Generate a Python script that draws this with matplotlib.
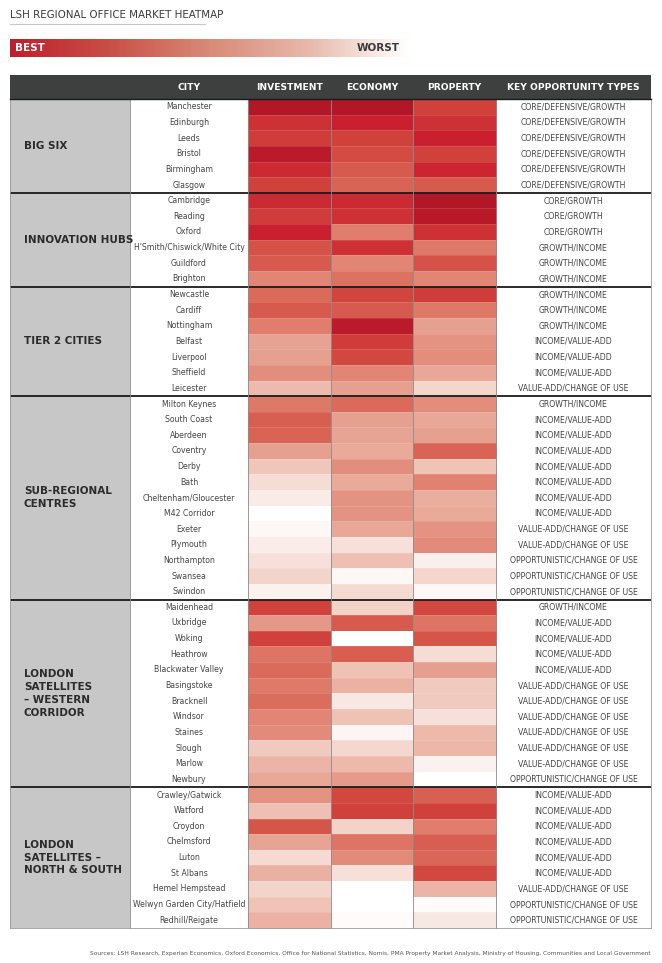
import numpy as np
import matplotlib
matplotlib.use("Agg")
import matplotlib.pyplot as plt
from matplotlib.colors import LinearSegmentedColormap

# ---------------- data ----------------
groups = ["BIG SIX", "INNOVATION HUBS", "TIER 2 CITIES", "SUB-REGIONAL\nCENTRES",
          "LONDON\nSATELLITES\n– WESTERN\nCORRIDOR", "LONDON\nSATELLITES –\nNORTH & SOUTH"]
group_sizes = [6, 6, 7, 13, 12, 9]

cities = ["Manchester", "Edinburgh", "Leeds", "Bristol", "Birmingham", "Glasgow",
          "Cambridge", "Reading", "Oxford", "H'Smith/Chiswick/White City", "Guildford", "Brighton",
          "Newcastle", "Cardiff", "Nottingham", "Belfast", "Liverpool", "Sheffield", "Leicester",
          "Milton Keynes", "South Coast", "Aberdeen", "Coventry", "Derby", "Bath",
          "Cheltenham/Gloucester", "M42 Corridor", "Exeter", "Plymouth", "Northampton", "Swansea", "Swindon",
          "Maidenhead", "Uxbridge", "Woking", "Heathrow", "Blackwater Valley", "Basingstoke",
          "Bracknell", "Windsor", "Staines", "Slough", "Marlow", "Newbury",
          "Crawley/Gatwick", "Watford", "Croydon", "Chelmsford", "Luton", "St Albans",
          "Hemel Hempstead", "Welwyn Garden City/Hatfield", "Redhill/Reigate"]

# score 0 (worst, white) .. 100 (best, dark red)
investment = [98, 85, 82, 95, 87, 80,
              87, 82, 90, 73, 70, 55,
              65, 70, 58, 44, 45, 52, 33,
              60, 69, 67, 45, 28, 17, 10, 0, 4, 9, 15, 21, 7,
              79, 48, 80, 61, 65, 59, 64, 55, 53, 26, 36, 42,
              50, 31, 72, 43, 18, 38, 21, 29, 37]
economy = [98, 90, 80, 75, 70, 67,
           87, 85, 58, 85, 55, 62,
           78, 70, 95, 82, 77, 55, 45,
           65, 45, 43, 41, 52, 41, 50, 50, 42, 15, 31, 4, 18,
           22, 70, 0, 69, 30, 37, 11, 30, 5, 19, 34, 47,
           77, 80, 22, 61, 53, 15, 0, 0, 2]
property_ = [80, 85, 90, 80, 88, 70,
             98, 96, 85, 60, 73, 55,
             82, 60, 45, 50, 52, 42, 20,
             52, 42, 45, 67, 29, 56, 39, 41, 50, 53, 8, 20, 4,
             77, 61, 72, 17, 46, 26, 26, 15, 34, 35, 7, 0,
             68, 80, 58, 69, 66, 77, 36, 2, 11]

key_types = (["CORE/DEFENSIVE/GROWTH"] * 6 +
             ["CORE/GROWTH"] * 3 + ["GROWTH/INCOME"] * 3 +
             ["GROWTH/INCOME"] * 3 + ["INCOME/VALUE-ADD"] * 3 + ["VALUE-ADD/CHANGE OF USE"] +
             ["GROWTH/INCOME"] + ["INCOME/VALUE-ADD"] * 7 + ["VALUE-ADD/CHANGE OF USE"] * 2 +
             ["OPPORTUNISTIC/CHANGE OF USE"] * 3 +
             ["GROWTH/INCOME"] + ["INCOME/VALUE-ADD"] * 4 + ["VALUE-ADD/CHANGE OF USE"] * 6 +
             ["OPPORTUNISTIC/CHANGE OF USE"] +
             ["INCOME/VALUE-ADD"] * 6 + ["VALUE-ADD/CHANGE OF USE"] + ["OPPORTUNISTIC/CHANGE OF USE"] * 2)

headers = ["CITY", "INVESTMENT", "ECONOMY", "PROPERTY", "KEY OPPORTUNITY TYPES"]
title = "LSH REGIONAL OFFICE MARKET HEATMAP"
source = ("Sources: LSH Research, Experian Economics, Oxford Economics, Office for National Statistics, "
          "Nomis, PMA Property Market Analysis, Ministry of Housing, Communities and Local Government")

# ---------------- style ----------------
plt.rcParams['font.family'] = ['Liberation Sans Narrow', 'DejaVu Sans']
cmap = LinearSegmentedColormap.from_list("lsh", [
    (0.00, "#ffffff"), (0.15, "#f6e0d9"), (0.30, "#efc2b5"), (0.45, "#e6a090"),
    (0.55, "#e28574"), (0.65, "#da6a5a"), (0.75, "#d34c42"), (0.82, "#cf3c3a"),
    (0.90, "#cb1f2f"), (1.00, "#ab1524")])
legend_cmap = LinearSegmentedColormap.from_list("leg", [
    (0.0, "#be1e2d"), (0.25, "#c95046"), (0.5, "#d98a78"), (0.75, "#e8b9ac"),
    (0.93, "#f9ece8"), (1.0, "#ffffff")])

W, H = 662, 963
fig = plt.figure(figsize=(W / 100, H / 100), dpi=100)
ax = fig.add_axes([0, 0, 1, 1])
ax.set_xlim(0, W)
ax.set_ylim(H, 0)
ax.axis("off")

# column edges
x_left, x_city, x_inv, x_eco, x_prop, x_key, x_right = 10, 130, 248, 331, 413, 496, 651
top, bottom = 99, 928
n = len(cities)
row_edges = np.linspace(top, bottom, n + 1)
row_mid = (row_edges[:-1] + row_edges[1:]) / 2

# title
ax.text(x_left, 15, title, fontsize=7.4, color="#3a3a3a", va="center", ha="left")
ax.plot([x_left, 205], [24, 24], color="#c8c8c8", lw=0.8)

# legend gradient bar
grad = np.linspace(0, 1, 300).reshape(1, -1)
ax.imshow(grad, cmap=legend_cmap, vmin=0, vmax=1, extent=[10, 410, 57, 39], aspect="auto",
          interpolation="bilinear")
ax.text(15, 48, "BEST", fontsize=7.5, color="white", fontweight="bold", va="center", ha="left")
ax.text(400, 48, "WORST", fontsize=7.5, color="#3a3a3a", fontweight="bold", va="center", ha="right")

# header bar
ax.fill_between([x_left, x_right], 75, 99, color="#3e403f", lw=0)
hdr_centers = [(x_city + x_inv) / 2, (x_inv + x_eco) / 2, (x_eco + x_prop) / 2,
               (x_prop + x_key) / 2, (x_key + x_right) / 2]
for hx, ht in zip(hdr_centers, headers):
    ax.text(hx, 87.5, ht, fontsize=6.6, color="white", fontweight="bold", ha="center", va="center")

# group label column
ax.fill_between([x_left, x_city], top, bottom, color="#c8c7c8", lw=0)

# heat cells
vals = np.array([investment, economy, property_]).T
ax.pcolormesh([x_inv, x_eco, x_prop, x_key], row_edges, vals, cmap=cmap, vmin=0, vmax=100,
              edgecolors=(1, 1, 1, 0.12), linewidth=0.5)

# text per row
for y, c, k in zip(row_mid, cities, key_types):
    ax.text((x_city + x_inv) / 2, y, c, fontsize=5.6, color="#444444", ha="center", va="center")
    ax.text((x_key + x_right) / 2, y, k, fontsize=5.6, color="#444444", ha="center", va="center")

# group labels and separators
start = 0
for g, s in zip(groups, group_sizes):
    y0, y1 = row_edges[start], row_edges[start + s]
    ax.text(24, (y0 + y1) / 2, g, fontsize=7.5, color="#2b2b2b", fontweight="bold",
            ha="left", va="center", linespacing=1.35)
    if start > 0:
        ax.plot([x_left, x_right], [y0, y0], color="#1a1a1a", lw=1.3, solid_capstyle="butt")
    start += s

# vertical lines
for xv in [x_city, x_inv, x_eco, x_prop, x_key]:
    ax.plot([xv, xv], [top, bottom], color="#8a8a8a", lw=0.6)
for xv in [x_left, x_right]:
    ax.plot([xv, xv], [top, bottom], color="#9a9a9a", lw=0.6)
ax.plot([x_left, x_right], [bottom, bottom], color="#9a9a9a", lw=0.6)
ax.plot([x_left, x_right], [top, top], color="#1a1a1a", lw=1.0)

# source
ax.text(x_right, 953, source, fontsize=4.25, color="#555555", ha="right", va="center")

fig.savefig("out.png", dpi=100)
